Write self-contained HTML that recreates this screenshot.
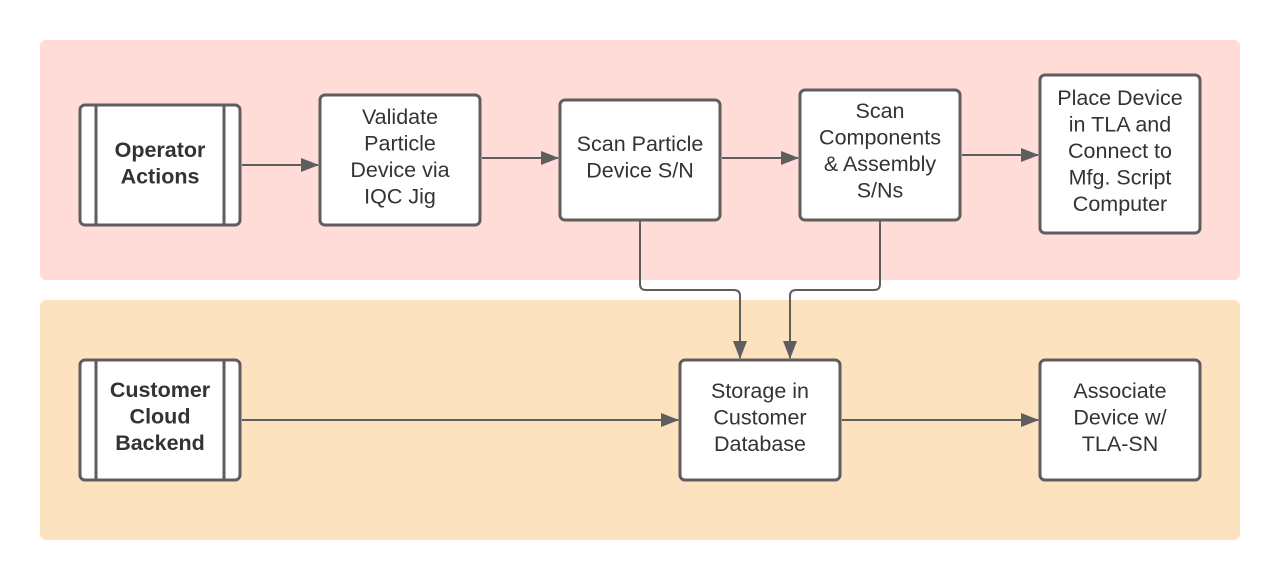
<!DOCTYPE html>
<html><head><style>body{margin:0;background:#fff}svg{display:block}</style></head><body>
<svg width="1280" height="580" xmlns="http://www.w3.org/2000/svg" font-family="Liberation Sans, Arial, sans-serif" font-size="21.5" fill="#333">
<defs>
<marker id="b" markerWidth="18" markerHeight="14" refX="17" refY="7" orient="auto" markerUnits="userSpaceOnUse"><path d="M0,0 L18,7 L0,14 z" fill="#5e5e5e"/></marker></defs>
<rect x="40" y="40" width="1200" height="240" rx="6" fill="#ffdcd7"/>
<rect x="40" y="300" width="1200" height="240" rx="6" fill="#fde2c0"/>
<g stroke="#5e5e5e" stroke-width="2" fill="none">
<path d="M242 165H318" marker-end="url(#b)"/>
<path d="M482 158H558" marker-end="url(#b)"/>
<path d="M722 158H798" marker-end="url(#b)"/>
<path d="M962 155H1038" marker-end="url(#b)"/>
<path d="M242 420H678" marker-end="url(#b)"/>
<path d="M842 420H1038" marker-end="url(#b)"/>
<path d="M640 221V284Q640 290 646 290H734Q740 290 740 296V358" marker-end="url(#b)"/>
<path d="M880 221V284Q880 290 874 290H796Q790 290 790 296V358" marker-end="url(#b)"/>
</g>
<g stroke="#5e5e5e" stroke-width="3" fill="#fff">
<rect x="80" y="105" width="160" height="120" rx="5"/>
<rect x="320" y="95" width="160" height="130" rx="5"/>
<rect x="560" y="100" width="160" height="120" rx="5"/>
<rect x="800" y="90" width="160" height="130" rx="5"/>
<rect x="1040" y="75" width="160" height="158" rx="5"/>
<rect x="80" y="360" width="160" height="120" rx="5"/>
<rect x="680" y="360" width="160" height="120" rx="5"/>
<rect x="1040" y="360" width="160" height="120" rx="5"/>
<path d="M96 105V225M224 105V225M96 360V480M224 360V480"/>
</g>
<g text-anchor="middle">
<text x="160" y="157" font-weight="bold">Operator<tspan x="160" dy="26.5">Actions</tspan></text>
<text x="400" y="124">Validate<tspan x="400" dy="26.5">Particle</tspan><tspan x="400" dy="26.5">Device via</tspan><tspan x="400" dy="26.5">IQC Jig</tspan></text>
<text x="640" y="151">Scan Particle<tspan x="640" dy="26.5">Device S/N</tspan></text>
<text x="880" y="118">Scan<tspan x="880" dy="26.5">Components</tspan><tspan x="880" dy="26.5">&amp; Assembly</tspan><tspan x="880" dy="26.5">S/Ns</tspan></text>
<text x="1120" y="105">Place Device<tspan x="1120" dy="26.5">in TLA and</tspan><tspan x="1120" dy="26.5">Connect to</tspan><tspan x="1120" dy="26.5">Mfg. Script</tspan><tspan x="1120" dy="26.5">Computer</tspan></text>
<text x="160" y="397" font-weight="bold">Customer<tspan x="160" dy="26.5">Cloud</tspan><tspan x="160" dy="26.5">Backend</tspan></text>
<text x="760" y="398">Storage in<tspan x="760" dy="26.5">Customer</tspan><tspan x="760" dy="26.5">Database</tspan></text>
<text x="1120" y="398">Associate<tspan x="1120" dy="26.5">Device w/</tspan><tspan x="1120" dy="26.5">TLA-SN</tspan></text>
</g>
</svg>
</body></html>
